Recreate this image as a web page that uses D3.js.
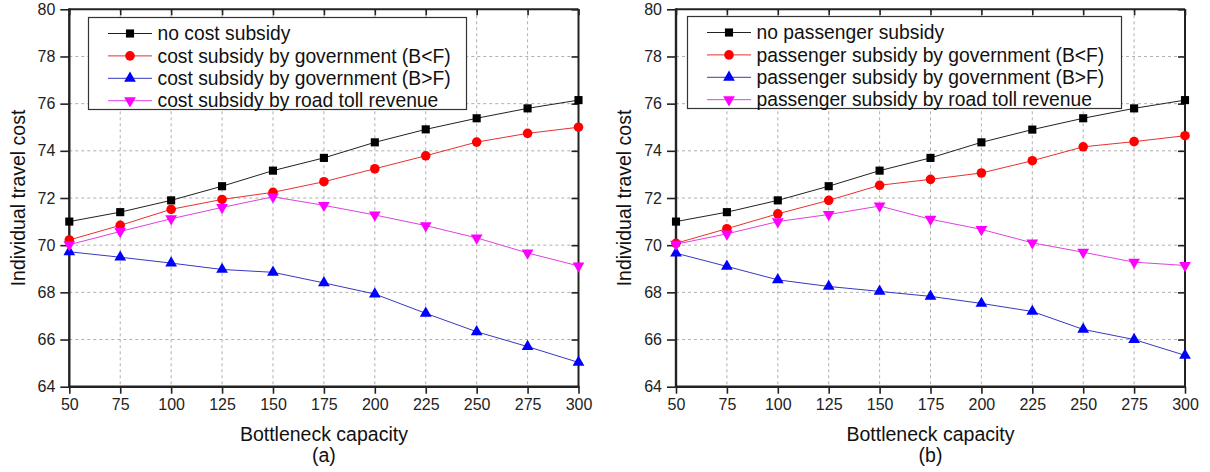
<!DOCTYPE html>
<html>
<head>
<meta charset="utf-8">
<script src="https://cdn.jsdelivr.net/npm/d3@7/dist/d3.min.js"></script>
<style>
  html, body { margin: 0; padding: 0; background: #fff; }
  svg { display: block; font-family: "Liberation Sans", Arial, sans-serif; }
</style>
</head>
<body>
<svg id="chart" width="1210" height="472"></svg>
<script>
// Bottleneck capacity values (x axis)
const capacity = [50, 75, 100, 125, 150, 175, 200, 225, 250, 275, 300];
const xTicks = [50, 75, 100, 125, 150, 175, 200, 225, 250, 275, 300];
const yTicks = [64, 66, 68, 70, 72, 74, 76, 78, 80];

// Panel (a): cost subsidy
const aNoSubsidy   = [71.0, 71.4, 71.9, 72.5, 73.16, 73.7, 74.36, 74.91, 75.38, 75.8, 76.15];
const aGovLess     = [70.22, 70.84, 71.52, 71.94, 72.24, 72.69, 73.24, 73.79, 74.37, 74.74, 75.0];
const aGovGreater  = [69.72, 69.49, 69.24, 68.97, 68.85, 68.4, 67.93, 67.11, 66.33, 65.7, 65.03];
const aTollRevenue = [70.02, 70.58, 71.12, 71.6, 72.05, 71.69, 71.28, 70.83, 70.31, 69.67, 69.12];

// Panel (b): passenger subsidy
const bNoSubsidy   = [71.0, 71.4, 71.9, 72.5, 73.16, 73.7, 74.36, 74.9, 75.38, 75.8, 76.15];
const bGovLess     = [70.08, 70.7, 71.33, 71.9, 72.54, 72.79, 73.06, 73.58, 74.17, 74.39, 74.64];
const bGovGreater  = [69.66, 69.1, 68.53, 68.25, 68.04, 67.83, 67.53, 67.19, 66.43, 66.0, 65.33];
const bTollRevenue = [70.04, 70.48, 71.0, 71.3, 71.66, 71.1, 70.67, 70.1, 69.7, 69.28, 69.14];

const labelsA = ["no cost subsidy", "cost subsidy by government (B<F)",
                 "cost subsidy by government (B>F)", "cost subsidy by road toll revenue"];
const labelsB = ["no passenger subsidy", "passenger subsidy by government (B<F)",
                 "passenger subsidy by government (B>F)", "passenger subsidy by road toll revenue"];

const colors = ["#000000", "#ff0000", "#0000ff", "#ff00ff"];
const lineColors = ["#222222", "#e83030", "#3838c0", "#e040e0"];
const shapes = ["square", "circle", "triangle", "triangleDown"];

const svg = d3.select("#chart");

function markerPath(shape) {
  if (shape === "square") return d3.symbol(d3.symbolSquare, 66)();
  if (shape === "circle") return d3.symbol(d3.symbolCircle, 72)();
  // triangles (the downward one is rotated when placed)
  return d3.symbol(d3.symbolTriangle, 60)();
}

function drawPanel(cfg) {
  const x = d3.scaleLinear().domain([50, 300]).range([cfg.left, cfg.right]);
  const y = d3.scaleLinear().domain([64, 80]).range([386.7, 9.3]);
  const g = svg.append("g");

  // dashed grid
  g.append("g").selectAll("line").data(xTicks.slice(1, -1)).join("line")
    .attr("x1", d => x(d)).attr("x2", d => x(d))
    .attr("y1", y(80)).attr("y2", y(64))
    .attr("stroke", "#9a9a9a").attr("stroke-width", 0.8).attr("stroke-dasharray", "3,3");
  g.append("g").selectAll("line").data(yTicks.slice(1, -1)).join("line")
    .attr("y1", d => y(d)).attr("y2", d => y(d))
    .attr("x1", x(50)).attr("x2", x(300))
    .attr("stroke", "#9a9a9a").attr("stroke-width", 0.8).attr("stroke-dasharray", "3,3");

  // axes
  const axStyle = sel => {
    sel.select(".domain").remove();
    sel.selectAll(".tick line").attr("stroke", "#222").attr("stroke-width", 1.6);
    sel.selectAll(".tick text").attr("fill", "#222").attr("font-size", 16)
       .attr("font-family", "'Liberation Sans', Arial, sans-serif");
  };
  g.append("g").attr("transform", `translate(0,${y(64)})`)
    .call(d3.axisBottom(x).tickValues(xTicks).tickSize(7).tickPadding(5)).call(axStyle);
  g.append("g").attr("transform", `translate(${x(50)},0)`)
    .call(d3.axisLeft(y).tickValues(yTicks).tickSize(9).tickPadding(5)).call(axStyle);
  g.append("g").attr("transform", `translate(0,${y(80)})`)
    .call(d3.axisTop(x).tickValues(xTicks).tickSize(-6).tickFormat("")).call(axStyle);
  g.append("g").attr("transform", `translate(${x(300)},0)`)
    .call(d3.axisRight(y).tickValues(yTicks).tickSize(-7).tickFormat("")).call(axStyle);

  // frame
  g.append("line").attr("x1", x(50)).attr("x2", x(50)).attr("y1", y(80) - 1).attr("y2", y(64) + 1)
    .attr("stroke", "#222").attr("stroke-width", 2.4);
  g.append("line").attr("x1", x(50) - 1).attr("x2", x(300) + 1).attr("y1", y(64)).attr("y2", y(64))
    .attr("stroke", "#222").attr("stroke-width", 2.4);
  g.append("line").attr("x1", x(50)).attr("x2", x(300)).attr("y1", y(80)).attr("y2", y(80))
    .attr("stroke", "#222").attr("stroke-width", 2);
  g.append("line").attr("x1", x(300)).attr("x2", x(300)).attr("y1", y(80)).attr("y2", y(64))
    .attr("stroke", "#222").attr("stroke-width", 2);

  // series
  const line = d3.line().x((d, i) => x(capacity[i])).y(d => y(d));
  cfg.series.forEach((vals, k) => {
    g.append("path").attr("d", line(vals)).attr("fill", "none")
      .attr("stroke", lineColors[k]).attr("stroke-width", 1);
  });
  cfg.series.forEach((vals, k) => {
    g.append("g").selectAll("path").data(vals).join("path")
      .attr("d", markerPath(shapes[k]))
      .attr("transform", (d, i) => `translate(${x(capacity[i])},${y(d)})` +
            (shapes[k] === "triangleDown" ? " rotate(180)" : ""))
      .attr("fill", colors[k]);
  });

  // legend
  const lg = g.append("g");
  lg.append("rect").attr("x", cfg.legend.x).attr("y", cfg.legend.y)
    .attr("width", cfg.legend.w).attr("height", cfg.legend.h)
    .attr("fill", "#fff").attr("stroke", "#333").attr("stroke-width", 1.2);
  cfg.labels.forEach((lab, k) => {
    const ry = cfg.legend.y + 16 + k * 22.4;
    const lx = cfg.legend.x + 19.5;
    lg.append("line").attr("x1", lx).attr("x2", lx + 44).attr("y1", ry).attr("y2", ry)
      .attr("stroke", lineColors[k]).attr("stroke-width", 1);
    lg.append("path").attr("d", markerPath(shapes[k]))
      .attr("transform", `translate(${lx + 22},${ry})` + (shapes[k] === "triangleDown" ? " rotate(180)" : ""))
      .attr("fill", colors[k]);
    lg.append("text").attr("x", lx + 49.5).attr("y", ry).attr("dy", "0.35em")
      .attr("font-size", 19.3).attr("fill", "#111").text(lab);
  });

  // axis titles
  const cx = (cfg.left + cfg.right) / 2;
  g.append("text").attr("x", cx).attr("y", 434).attr("dy", "0.35em")
    .attr("text-anchor", "middle").attr("font-size", 19.5).attr("fill", "#111").text("Bottleneck capacity");
  g.append("text").attr("x", cx).attr("y", 455.5).attr("dy", "0.35em")
    .attr("text-anchor", "middle").attr("font-size", 19.5).attr("fill", "#111").text(cfg.tag);
  g.append("text").attr("transform", `translate(${cfg.left - 51.5},${(y(80) + y(64)) / 2}) rotate(-90)`)
    .attr("dy", "0.35em").attr("text-anchor", "middle").attr("font-size", 19.5).attr("fill", "#111")
    .text("Individual travel cost");
}

drawPanel({
  left: 69.3, right: 578.5, tag: "(a)",
  series: [aNoSubsidy, aGovLess, aGovGreater, aTollRevenue],
  labels: labelsA,
  legend: { x: 88.5, y: 17.5, w: 378, h: 92 }
});
drawPanel({
  left: 676, right: 1185, tag: "(b)",
  series: [bNoSubsidy, bGovLess, bGovGreater, bTollRevenue],
  labels: labelsB,
  legend: { x: 687.5, y: 16.5, w: 434, h: 92 }
});
</script>
</body>
</html>
